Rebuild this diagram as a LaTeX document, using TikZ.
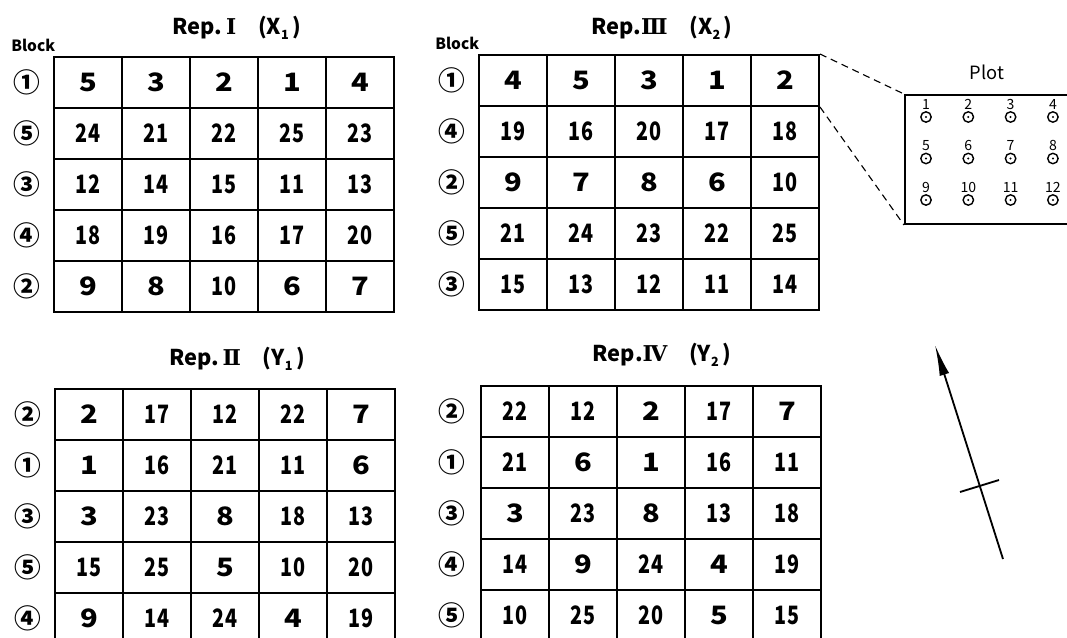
\documentclass[tikz,border=0pt]{standalone}
\usepackage{fontspec}
\usepackage{graphicx}
\setmainfont{Noto Sans CJK JP}
\newfontfamily\romfont{DejaVu Serif}
\usetikzlibrary{arrows.meta}
\tikzset{>=Latex,
  cell/.style={draw,line width=1.4pt,minimum width=1.7cm,minimum height=1.275cm,inner sep=0pt,font=\fontsize{18}{18}\bfseries\selectfont},
  blk/.style={inner sep=0pt,font=\fontsize{19}{19}\bfseries\selectfont},
  title/.style={inner sep=0pt,font=\fontsize{15.5}{16}\bfseries\selectfont},
  hd/.style={inner sep=0pt,anchor=west,font=\fontsize{11}{11}\bfseries\selectfont},
  link/.style={draw,line width=0.8pt,dash pattern=on 5pt off 3.5pt},
  pt/.style={circle,draw,line width=1pt,minimum size=0.26cm,inner sep=0pt,
    path picture={\fill (path picture bounding box.center) circle (0.8pt);}},
  ptlab/.style={inner sep=0pt,font=\fontsize{10}{10}\selectfont},
  north/.style={line width=1.3pt}}
\newcommand\subidx[1]{\raisebox{-0.4ex}{\fontsize{9}{10}\selectfont#1}}
\newcommand\rom[1]{{\romfont\bfseries #1}}
\newcommand\cellnum[1]{\ifnum#1<10 \scalebox{1.15}[1]{#1}\else\scalebox{0.78}[1]{#1}\fi}
\newcommand\repgrid[5]{%
  \foreach \b/\vals [count=\r] in {#5}{
    \node[blk] (#1b\r) at (#4,{#3+51*(\r-0.5)}) {\b};
    \foreach \v [count=\c] in \vals
      \node[cell] (#1-\r-\c) at ({#2+68*(\c-0.5)},{#3+51*(\r-0.5)}) {\cellnum{\v}};
  }}

\begin{document}
\begin{tikzpicture}[x=0.025cm,y=-0.025cm]
  \useasboundingbox (0,0) rectangle (1067,638);
  \node[title] (repI) at (237,28) {Rep.\,\rom{Ⅰ}\quad(X\subidx{1}\,)};
  \node[title] (repIII) at (662,28) {Rep.\rom{Ⅲ}\quad(X\subidx{2}\,)};
  \node[title] (repII) at (237,359) {Rep.\,\rom{Ⅱ}\quad(Y\subidx{1}\,)};
  \node[title] (repIV) at (662,355) {Rep.\rom{Ⅳ}\quad(Y\subidx{2}\,)};
  \node[hd] (blockI) at (11,45) {Block};
  \node[hd] (blockIII) at (435,43) {Block};
  \repgrid{ga}{54}{57}{27}{①/{5,3,2,1,4},⑤/{24,21,22,25,23},③/{12,14,15,11,13},④/{18,19,16,17,20},②/{9,8,10,6,7}}
  \repgrid{gc}{479}{55}{452}{①/{4,5,3,1,2},④/{19,16,20,17,18},②/{9,7,8,6,10},⑤/{21,24,23,22,25},③/{15,13,12,11,14}}
  \repgrid{gb}{55}{389}{28}{②/{2,17,12,22,7},①/{1,16,21,11,6},③/{3,23,8,18,13},⑤/{15,25,5,10,20},④/{9,14,24,4,19}}
  \repgrid{gd}{481}{386}{452}{②/{22,12,2,17,7},①/{21,6,1,16,11},③/{3,23,8,13,18},④/{14,9,24,4,19},⑤/{10,25,20,5,15}}
  % plot detail
  \node[draw,line width=1.4pt,minimum width=4.3cm,minimum height=3.225cm] (plotbox) at (991,159.5) {};
  \node[inner sep=0pt,font=\fontsize{13}{13}\selectfont] (plotlab) at (987,72) {Plot};
  \draw[link] (gc-1-5.north east) -- (plotbox.north west);
  \draw[link] (gc-1-5.south east) -- (plotbox.south west);
  \foreach \i in {0,1,2}
    \foreach \j in {0,...,3}{
      \pgfmathtruncatemacro\n{4*\i+\j+1}
      \node[pt,label={[ptlab,label distance=1pt]above:\n}] (p\n) at ({926+42.3*\j},{117+41.5*\i}) {};
    }
  % north arrow
  \coordinate (ntail) at (1003,559);
  \coordinate (ntip) at (935,345);
  \coordinate (barL) at (960,492);
  \coordinate (barR) at (999,480);
  \draw[north,-{Latex[length=22pt,width=7pt]}] (ntail) -- (ntip);
  \draw[north] (barL) -- (barR);
\end{tikzpicture}
\end{document}
